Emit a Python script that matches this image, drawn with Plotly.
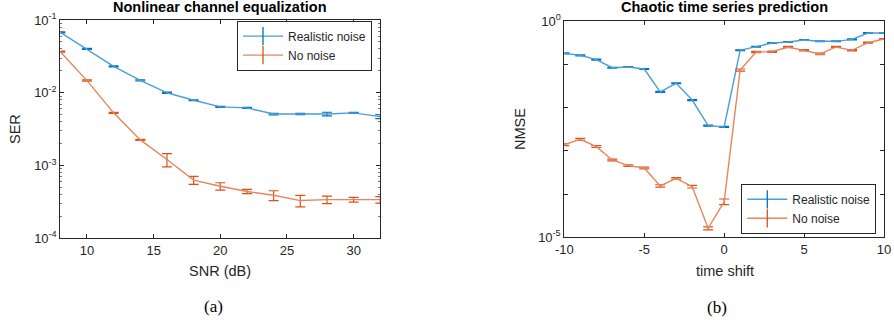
import plotly.graph_objects as go

W, H = 894, 328

# ---- data: (a) Nonlinear channel equalization ----
snr_db = [8, 10, 12, 14, 16, 18, 20, 22, 24, 26, 28, 30, 32]
ser_realistic = [0.0678, 0.0400, 0.0231, 0.0148, 0.0100, 0.0079, 0.0064, 0.0062, 0.0051, 0.0051, 0.0051, 0.0053, 0.0047]
ser_realistic_err = [0.0012, 0.0007, 0.0004, 0.0003, 0.0002, 0.00012, 0.0001, 0.0001, 0.00012, 0.0001, 0.0003, 0.00008, 0.0003]
ser_nonoise = [0.0367, 0.0147, 0.0053, 0.00225, 0.00121, 0.00063, 0.00052, 0.00044, 0.00039, 0.00033, 0.00034, 0.00034, 0.00034]
ser_nonoise_err = [0.0006, 0.0003, 0.0001, 0.00004, 0.00025, 0.00008, 0.00006, 0.00003, 0.00006, 0.00006, 0.00004, 0.000025, 0.000035]
snr_ticks = [10, 15, 20, 25, 30]
ser_ticks = [1e-4, 1e-3, 1e-2, 1e-1]
ser_ticktext = ["10<sup>-4</sup>", "10<sup>-3</sup>", "10<sup>-2</sup>", "10<sup>-1</sup>"]

# ---- data: (b) Chaotic time series prediction ----
time_shift = list(range(-10, 11))
nmse_realistic = [0.179, 0.161, 0.128, 0.0834, 0.0865, 0.0778, 0.0229, 0.0363, 0.0149, 0.0038, 0.00355,
                  0.21, 0.255, 0.31, 0.327, 0.364, 0.339, 0.339, 0.377, 0.528, 0.528]
nmse_realistic_err = [0.005, 0.004, 0.003, 0.002, 0.002, 0.002, 0.0006, 0.0008, 0.0004, 0.0001, 0.0001,
                      0.005, 0.006, 0.007, 0.007, 0.008, 0.008, 0.008, 0.009, 0.012, 0.012]
nmse_nonoise = [0.00139, 0.00184, 0.00125, 0.000614, 0.000453, 0.000401, 0.000154, 0.000231, 0.000148, 1.62e-5, 6.67e-5,
                0.0737, 0.192, 0.195, 0.251, 0.21, 0.173, 0.251, 0.21, 0.315, 0.384]
nmse_nonoise_err = [0.00007, 0.00009, 0.00006, 0.00003, 0.00002, 0.00002, 0.00001, 0.00001, 0.00001, 1.3e-6, 1.0e-5,
                    0.004, 0.006, 0.006, 0.008, 0.007, 0.007, 0.007, 0.007, 0.009, 0.01]
ts_ticks = [-10, -5, 0, 5, 10]
ts_ticktext = ["-10", "-5", "0", "5", "10"]
nmse_ticks = [1e-5, 1e-4, 1e-3, 1e-2, 1e-1, 1e0]
nmse_ticktext = ["10<sup>-5</sup>", "", "", "", "", "10<sup>0</sup>"]

series_names = ["Realistic noise", "No noise"]

BLUE = "#0072BD"
BLUE_L = "#4a9fd8"
ORANGE = "#D95319"
ORANGE_L = "#e8855c"
AX = "#262626"
FONT = "Liberation Sans, Arial, sans-serif"

fig = go.Figure()


def add_series(x, y, err, line_col, err_col, xa, ya):
    fig.add_trace(go.Scatter(
        x=x, y=y, mode="lines", xaxis=xa, yaxis=ya, showlegend=False,
        line=dict(color=line_col, width=1.4),
        error_y=dict(type="data", array=err, symmetric=True, color=err_col, thickness=1.2, width=5),
    ))


def add_legend_entry(name, line_col, err_col, legend):
    fig.add_trace(go.Scatter(
        x=[None], y=[None], mode="lines+markers", name=name, legend=legend,
        line=dict(color=line_col, width=1.4),
        marker=dict(symbol="line-ns-open", size=13, color=err_col, line=dict(width=1.3, color=err_col)),
    ))


add_series(snr_db, ser_realistic, ser_realistic_err, BLUE_L, BLUE, "x", "y")
add_series(snr_db, ser_nonoise, ser_nonoise_err, ORANGE_L, ORANGE, "x", "y")
add_series(time_shift, nmse_realistic, nmse_realistic_err, BLUE_L, BLUE, "x2", "y2")
add_series(time_shift, nmse_nonoise, nmse_nonoise_err, ORANGE_L, ORANGE, "x2", "y2")

add_legend_entry(series_names[0], BLUE_L, BLUE, "legend")
add_legend_entry(series_names[1], ORANGE_L, ORANGE, "legend")
add_legend_entry(series_names[0], BLUE_L, BLUE, "legend2")
add_legend_entry(series_names[1], ORANGE_L, ORANGE, "legend2")

axis_common = dict(showline=True, linecolor=AX, linewidth=1, mirror="ticks", ticks="inside",
                   ticklen=4, tickcolor=AX, showgrid=False, zeroline=False, automargin=False,
                   tickfont=dict(family=FONT, size=13, color=AX))

minor_vals = []
for e in [1e-4, 1e-3, 1e-2]:
    for k in range(2, 10):
        minor_vals.append(k * e)


def px_x(p):
    return p / W


def px_y(p):
    return 1 - p / H


fig.update_layout(
    width=W, height=H, margin=dict(l=0, r=0, t=0, b=0, pad=0, autoexpand=False),
    paper_bgcolor="white", plot_bgcolor="white",
    xaxis=dict(domain=[px_x(60.3), px_x(380.3)], range=[8, 32], tickmode="array", tickvals=snr_ticks,
               anchor="y", **axis_common),
    yaxis=dict(domain=[px_y(238.3), px_y(20)], type="log", range=[-4, -1], tickmode="array",
               tickvals=ser_ticks, ticktext=ser_ticktext, anchor="x",
               minor=dict(ticks="inside", ticklen=2, tickcolor="#777", tickvals=minor_vals), **axis_common),
    xaxis2=dict(domain=[px_x(564.3), px_x(884)], range=[-10, 10], tickmode="array", tickvals=ts_ticks,
                ticktext=ts_ticktext, anchor="y2", **axis_common),
    yaxis2=dict(domain=[px_y(237.3), px_y(21)], type="log", range=[-5, 0], tickmode="array",
                tickvals=nmse_ticks, ticktext=nmse_ticktext, anchor="x2", **axis_common),
    legend=dict(x=px_x(237), y=px_y(45.6), xanchor="left", yanchor="middle", bgcolor="white",
                bordercolor=AX, borderwidth=1, itemwidth=40, tracegroupgap=0,
                font=dict(family=FONT, size=12, color=AX)),
    legend2=dict(x=px_x(741.3), y=px_y(208.8), xanchor="left", yanchor="middle", bgcolor="white",
                 bordercolor=AX, borderwidth=1, itemwidth=40, tracegroupgap=0,
                 font=dict(family=FONT, size=12, color=AX)),
)

ann = []


def add_text(text, x, y, size, bold=False, angle=0, family=FONT, color=AX):
    ann.append(dict(text=("<b>%s</b>" % text) if bold else text, x=px_x(x), y=px_y(y), xref="paper", yref="paper",
                    showarrow=False, xanchor="center", yanchor="middle", textangle=angle,
                    font=dict(family=family, size=size, color=color)))


add_text("Nonlinear channel equalization", 220, 7, 14.5, bold=True, color="#000")
add_text("Chaotic time series prediction", 724, 7.5, 14.5, bold=True, color="#000")
add_text("SNR (dB)", 220, 270.5, 14.5)
add_text("time shift", 725, 271, 14.5)
add_text("SER", 15, 129, 14.5, angle=-90)
add_text("NMSE", 520, 129, 14.5, angle=-90)
add_text("(a)", 213, 306, 17, family="Liberation Serif, DejaVu Serif, serif", color="#000")
add_text("(b)", 717, 307, 17, family="Liberation Serif, DejaVu Serif, serif", color="#000")
fig.update_layout(annotations=ann)

fig.write_html("out.html", config={"displayModeBar": False},
               post_script="document.body.style.margin='0';document.body.style.padding='0';")
